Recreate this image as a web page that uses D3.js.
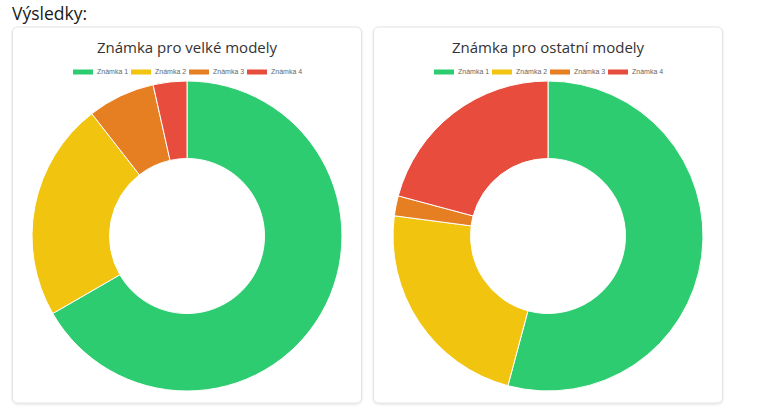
<!DOCTYPE html>
<html>
<head>
<meta charset="utf-8">
<script src="https://cdn.jsdelivr.net/npm/d3@7"></script>
<style>
  body { margin: 0; background: #fff; }
  svg { display: block; }
</style>
</head>
<body>
<div id="chart"></div>
<script>
// Data
var grades = ["Známka 1", "Známka 2", "Známka 3", "Známka 4"];
var colors = ["#2ecc71", "#f1c40f", "#e67e22", "#e74c3c"];
var bigModels = [38, 13, 4, 2];
var otherModels = [26, 11, 1, 10];
var chartTitles = ["Známka pro velké modely", "Známka pro ostatní modely"];

var width = 765, height = 412;

var svg = d3.select("#chart")
  .append("svg")
    .attr("width", width)
    .attr("height", height);

// card shadow
var defs = svg.append("defs");
var f = defs.append("filter").attr("id", "shadow")
  .attr("x", "-5%").attr("y", "-5%").attr("width", "110%").attr("height", "110%");
f.append("feDropShadow")
  .attr("dx", 0).attr("dy", 1).attr("stdDeviation", 1.2)
  .attr("flood-color", "#000").attr("flood-opacity", 0.12);

// Page heading
svg.append("text")
  .attr("x", 12)
  .attr("y", 19.5)
  .style("font-family", "'Open Sans', 'Noto Sans', sans-serif")
  .style("font-size", "17.5px")
  .style("font-weight", 500)
  .style("fill", "#1a1a1a")
  .text("Výsledky:");

var color = d3.scaleOrdinal().domain(grades).range(colors);

var cards = [
  {x: 12.5, title: chartTitles[0], values: bigModels},
  {x: 373.5, title: chartTitles[1], values: otherModels}
];
var cardW = 349, cardH = 376, cardY = 27;

cards.forEach(function(card) {
  var g = svg.append("g")
    .attr("transform", `translate(${card.x},${cardY})`);

  g.append("rect")
    .attr("width", cardW)
    .attr("height", cardH)
    .attr("rx", 5)
    .attr("fill", "#fff")
    .attr("stroke", "#e3e3e3")
    .attr("stroke-width", 1)
    .attr("filter", "url(#shadow)");

  // title
  g.append("text")
    .attr("x", cardW / 2)
    .attr("y", 26)
    .attr("text-anchor", "middle")
    .style("font-family", "'Open Sans', 'Noto Sans', sans-serif")
    .style("font-size", "15px")
    .style("fill", "#333")
    .text(card.title);

  // legend
  var itemW = 58;
  var legend = g.append("g")
    .attr("transform", `translate(${cardW / 2 - itemW * grades.length / 2 + 2},42.5)`);
  var items = legend.selectAll(".legend")
    .data(grades)
    .enter().append("g")
      .attr("class", "legend")
      .attr("transform", (d, i) => `translate(${i * itemW},0)`);
  items.append("rect")
    .attr("width", 20)
    .attr("height", 5)
    .attr("fill", d => color(d));
  items.append("text")
    .attr("x", 24)
    .attr("y", 2.5)
    .attr("dy", ".35em")
    .style("font-family", "'Liberation Sans', Arial, sans-serif")
    .style("font-size", "7px")
    .style("fill", "#666")
    .text(d => d);

  // donut
  var radius = 155;
  var pie = d3.pie().sort(null).value(d => d.value);
  var arc = d3.arc().innerRadius(radius * 0.5).outerRadius(radius);
  var data = grades.map((k, i) => ({key: k, value: card.values[i]}));

  g.append("g")
    .attr("transform", `translate(${cardW / 2},209)`)
    .selectAll("path")
    .data(pie(data))
    .enter().append("path")
      .attr("d", arc)
      .attr("fill", d => color(d.data.key))
      .attr("stroke", "#fff")
      .attr("stroke-width", 1);
});
</script>
</body>
</html>
